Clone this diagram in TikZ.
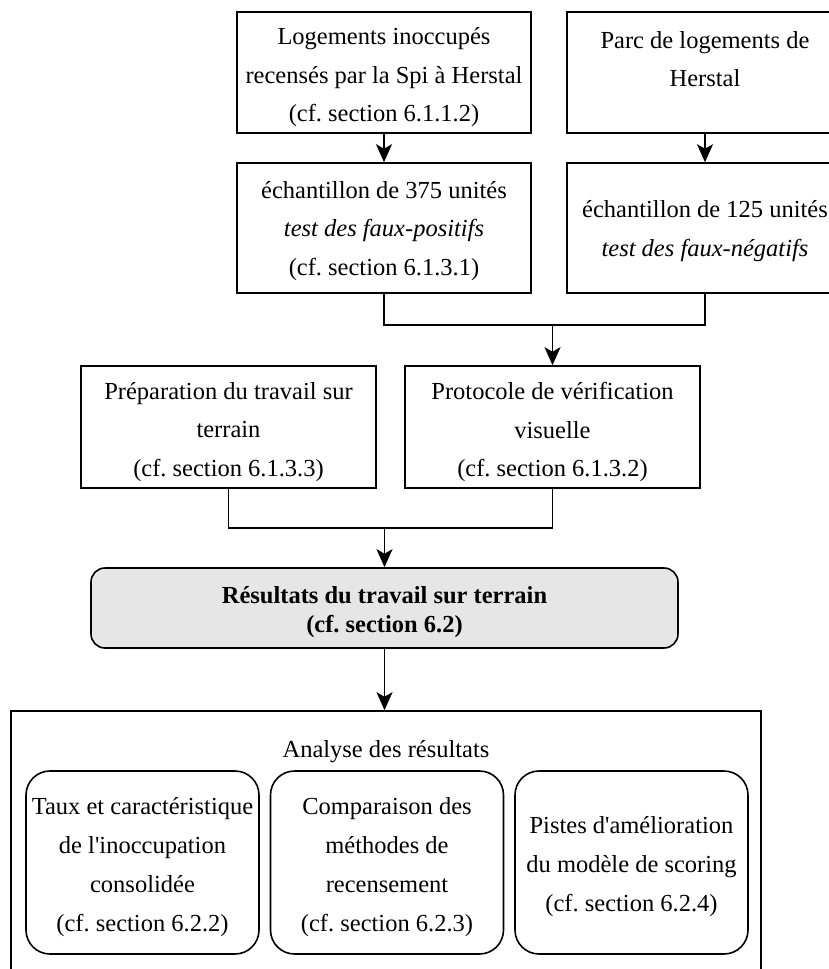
\documentclass[tikz,border=0pt]{standalone}
\usepackage{fontspec}
\setmainfont{Liberation Serif}[Ligatures=TeXOff]
\usetikzlibrary{arrows.meta}
\definecolor{resfill}{HTML}{E6E6E6}
\frenchspacing
\begin{document}
\begin{tikzpicture}[x=1pt,y=-1pt,
  box/.style={draw=black, line width=1.6pt, inner sep=0pt},
  resbox/.style={box, rounded corners=14pt, fill=resfill},
  subbox/.style={box, rounded corners=24pt},
  tx/.style={inner sep=0pt, align=center, font=\fontsize{24.5}{38.5}\selectfont},
  txs/.style={tx, font=\fontsize{24.5}{39}\selectfont},
  txb/.style={tx, font=\bfseries\fontsize{24.5}{28.5}\selectfont},
  conn/.style={line width=1.6pt},
  arr/.style={line width=1.6pt, -{Stealth[length=18pt,width=16pt,inset=4.5pt]}}]
\useasboundingbox (0,0) rectangle (829,969);
\clip (0,0) rectangle (829,969);

% boxes
\node[box, minimum width=294pt, minimum height=121pt] (A) at (384,72.5) {};
\node[box, minimum width=276pt, minimum height=121pt] (B) at (705,72.5) {};
\node[box, minimum width=294pt, minimum height=130pt] (C) at (384,228) {};
\node[box, minimum width=276pt, minimum height=130pt] (D) at (705,228) {};
\node[box, minimum width=295pt, minimum height=122pt] (P) at (228.5,427) {};
\node[box, minimum width=295pt, minimum height=122pt] (E) at (552.5,427) {};
\node[resbox, minimum width=587pt, minimum height=80pt] (R) at (384.5,608) {};
\node[box, minimum width=750pt, minimum height=300pt] (O) at (386,861) {};
\node[subbox, minimum width=233pt, minimum height=183pt] (I1) at (142.5,862.5) {};
\node[subbox, minimum width=233pt, minimum height=183pt] (I2) at (387,862.5) {};
\node[subbox, minimum width=233pt, minimum height=183pt] (I3) at (631.5,862.5) {};

% texts
\node[tx] (At) at (384,77.5)
  {Logements inoccupés\\recensés par la Spi à Herstal\\(cf. section 6.1.1.2)};
\node[tx] (Bt) at (705,59)
  {Parc de logements de\\Herstal};
\node[tx] (Ct) at (384,231)
  {échantillon de 375 unités\\\textit{test des faux-positifs}\\(cf. section 6.1.3.1)};
\node[tx] (Dt) at (705,231)
  {échantillon de 125 unités\\\textit{test des faux-négatifs}};
\node[tx] (Pt) at (228.5,432)
  {Préparation du travail sur\\terrain\\(cf. section 6.1.3.3)};
\node[tx] (Et) at (552.5,432)
  {Protocole de vérification\\visuelle\\(cf. section 6.1.3.2)};
\node[txb] (Rt) at (384.5,612)
  {Résultats du travail sur terrain\\(cf. section 6.2)};
\node[tx] (Ot) at (386,752) {Analyse des résultats};
\node[txs] (I1t) at (142.5,867.5)
  {Taux et caractéristique\\de l'inoccupation\\consolidée\\(cf. section 6.2.2)};
\node[txs] (I2t) at (387,867.5)
  {Comparaison des\\méthodes de\\recensement\\(cf. section 6.2.3)};
\node[txs] (I3t) at (631.5,867)
  {Pistes d'amélioration\\du modèle de scoring\\(cf. section 6.2.4)};

% connectors
\coordinate (j1) at (552.5,325);
\coordinate (j2) at (384.5,528);
\draw[arr] (A.south) -- (C.north);
\draw[arr] (B.south) -- (D.north);
\draw[conn] (C.south) -- (C.south |- j1) -- (D.south |- j1) -- (D.south);
\draw[arr] (j1) -- (E.north);
\draw[conn] (P.south) -- (P.south |- j2) -- (E.south |- j2) -- (E.south);
\draw[arr] (j2) -- (R.north);
\draw[arr] (R.south) -- (R.south |- O.north);
\end{tikzpicture}
\end{document}
